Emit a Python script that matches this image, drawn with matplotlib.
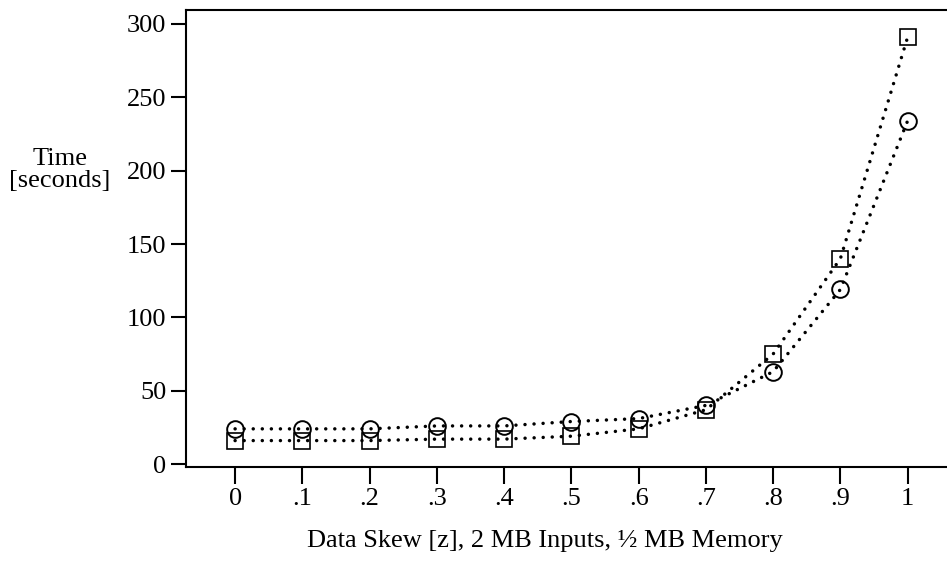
import numpy as np
import matplotlib
matplotlib.use('Agg')
import matplotlib.pyplot as plt

plt.rcParams['font.family'] = ['Liberation Serif', 'DejaVu Serif']

skew = [0, 0.1, 0.2, 0.3, 0.4, 0.5, 0.6, 0.7, 0.8, 0.9, 1.0]
tick_labels = ['0', '.1', '.2', '.3', '.4', '.5', '.6', '.7', '.8', '.9', '1']
time_square = [16, 16, 16, 17, 17, 19, 24, 37, 75, 140, 291]
time_circle = [24, 24, 24, 26, 26, 29, 31, 40, 63, 119, 234]

fig = plt.figure(figsize=(9.47, 5.67), dpi=100)
ax = fig.add_axes([186 / 947, 1 - 467 / 567, 762 / 947, 457 / 567])

dot_style = (0, (0.01, 2.6))
ax.plot(skew, time_square, color='black', linestyle=dot_style, linewidth=2.5,
        dash_capstyle='round', marker='s', markersize=12, markerfacecolor='none',
        markeredgecolor='black', markeredgewidth=1.2)
ax.plot(skew, time_circle, color='black', linestyle=dot_style, linewidth=2.5,
        dash_capstyle='round', marker='o', markersize=12, markerfacecolor='none',
        markeredgecolor='black', markeredgewidth=1.4)

ax.set_xlim(-0.073, 1.06)
ax.set_ylim(-2, 309.5)
ax.set_xticks(skew)
ax.set_xticklabels(tick_labels)
ax.set_yticks([0, 50, 100, 150, 200, 250, 300])
ax.tick_params(axis='both', direction='out', labelsize=19, width=1.5, colors='black')
ax.tick_params(axis='x', length=12, pad=3)
ax.tick_params(axis='y', length=11, pad=3)
for side in ['left', 'bottom', 'top']:
    ax.spines[side].set_linewidth(1.5)
ax.spines['right'].set_visible(False)

fig.text(60 / 947, 1 - 170 / 567, 'Time\n[seconds]', ha='center', va='center',
         fontsize=19, linespacing=1.0)
fig.text(545 / 947, 1 - 541 / 567, 'Data Skew [z], 2 MB Inputs, \u00bd MB Memory',
         ha='center', va='center', fontsize=19)

fig.savefig('out.png', dpi=100)
